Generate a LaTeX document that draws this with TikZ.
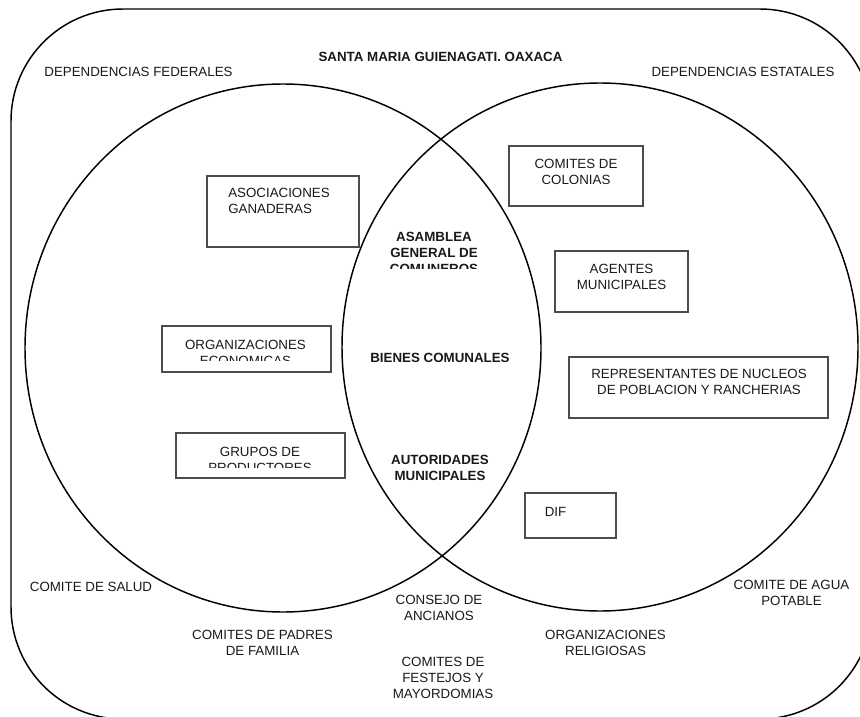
\documentclass[tikz,border=0pt]{standalone}
\usepackage{fontspec}
\setmainfont{Liberation Sans}
\begin{document}
\begin{tikzpicture}[x=0.75pt,y=-0.75pt,
  lbl/.style={font=\fontsize{10}{12}\selectfont, align=center, inner sep=0pt, text=black!90},
  blbl/.style={lbl, font=\fontsize{10}{12}\selectfont\bfseries},
  orgbox/.style={draw=black!70, line width=1.1pt},
  ring/.style={draw=black, line width=1.1pt}]
\useasboundingbox (0,0) rectangle (860,717);
\clip (0,0) rectangle (860,717);

% outer frame and the two circles
\draw[ring, rounded corners=84pt] (11,9) rectangle (872,719);
\draw[ring] (283,348) ellipse [x radius=193.5pt, y radius=198pt];
\draw[ring] (600,347) ellipse [x radius=193.5pt, y radius=198pt];

% title and outer labels
\node[blbl] (title) at (440.5,57) {SANTA MARIA GUIENAGATI. OAXACA};
\node[lbl] (depfed) at (138.5,72) {DEPENDENCIAS FEDERALES};
\node[lbl] (depest) at (743,72) {DEPENDENCIAS ESTATALES};
\node[lbl] (salud) at (91,587) {COMITE DE SALUD};
\node[lbl] (padres) at (262.5,643) {COMITES DE PADRES\\DE FAMILIA};
\node[lbl] (consejo) at (439,608) {CONSEJO DE\\ANCIANOS};
\node[lbl] (festejos) at (443,677.5) {COMITES DE\\FESTEJOS Y\\MAYORDOMIAS};
\node[lbl] (religiosas) at (605.5,643) {ORGANIZACIONES\\RELIGIOSAS};
\node[lbl] (agua) at (791.5,593) {COMITE DE AGUA\\POTABLE};

% centre labels
\begin{scope}
  \clip (380,225) rectangle (500,268);
  \node[blbl] (asamblea) at (434,253) {ASAMBLEA\\GENERAL DE\\COMUNEROS};
\end{scope}
\node[blbl] (bienes) at (440,358) {BIENES COMUNALES};
\node[blbl] (autoridades) at (440,467.5) {AUTORIDADES\\MUNICIPALES};

% boxes, left circle
\draw[orgbox] (207,176) rectangle (359,247);
\node[lbl, align=left, anchor=west] (ganaderas) at (228,201) {ASOCIACIONES\\GANADERAS};

\draw[orgbox] (162,326) rectangle (331,372);
\begin{scope}
  \clip (164,328) rectangle (329,360);
  \node[lbl] (economicas) at (245.5,353) {ORGANIZACIONES\\ECONOMICAS};
\end{scope}

\draw[orgbox] (176,433) rectangle (345,478);
\begin{scope}
  \clip (178,435) rectangle (343,467);
  \node[lbl] (productores) at (260,459.7) {GRUPOS DE\\PRODUCTORES};
\end{scope}

% boxes, right circle
\draw[orgbox] (509,146) rectangle (643,206);
\node[lbl] (colonias) at (576,171.5) {COMITES DE\\COLONIAS};

\draw[orgbox] (555,251) rectangle (688,312);
\node[lbl] (agentes) at (621.5,277) {AGENTES\\MUNICIPALES};

\draw[orgbox] (569,357) rectangle (828,418);
\node[lbl] (nucleos) at (699,382) {REPRESENTANTES DE NUCLEOS\\DE POBLACION Y RANCHERIAS};

\draw[orgbox] (525,493) rectangle (616,538);
\node[lbl] (dif) at (555.5,512) {DIF};
\end{tikzpicture}
\end{document}
